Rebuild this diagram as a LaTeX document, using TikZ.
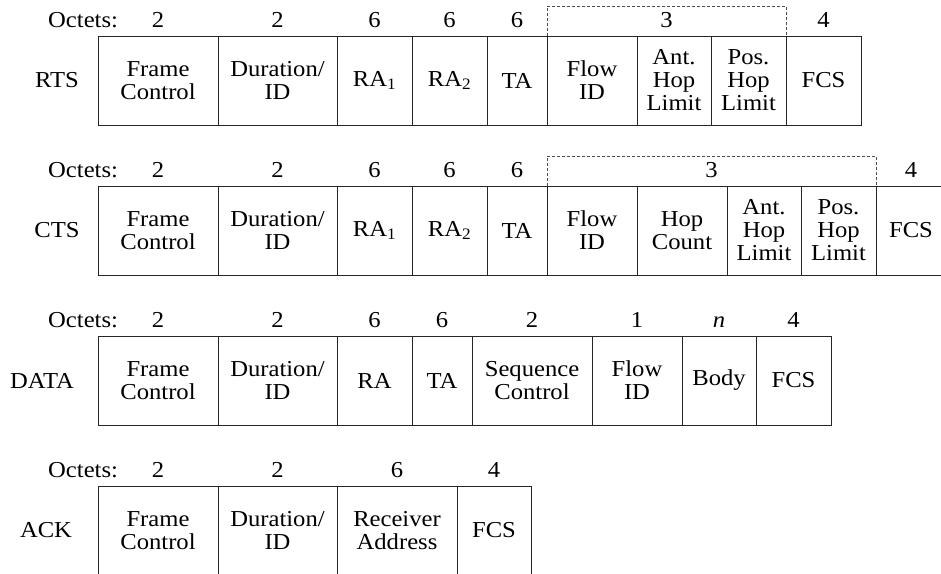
\documentclass[tikz,border=0pt]{standalone}
\usepackage{fontspec}
\setmainfont{Liberation Serif}[FakeStretch=1.08]
\usetikzlibrary{positioning}

\tikzset{
  field/.style={draw=black!85, line width=0.9pt, inner sep=0pt, align=center, minimum height=89pt},
  octet/.style={anchor=base, inner sep=0pt},
  group/.style={draw=black!70, dash pattern=on 3pt off 2pt, line width=0.7pt, inner sep=0pt, minimum height=30pt},
  rowname/.style={inner sep=0pt}
}

\begin{document}
\begin{tikzpicture}[x=1pt, y=-1pt, font=\fontsize{22.8}{23}\selectfont]
\useasboundingbox (0,0) rectangle (941,573);

% RTS
\node[rowname] (rts) at (57,80.5) {RTS};
\node[octet, anchor=base west] (rts-oct) at (48,27) {Octets:};
\node[group, minimum width=239pt] (rts-grp) at (666.5,21) {};
\node[octet] (rts-grp-o) at (rts-grp.center |- 0,27) {3};
\foreach \l/\r/\o/\t/\n in {98/218/2/{Frame\\Control}/fc, 218/337/2/{Duration/\\ID}/dur,
    337/412/6/{RA\textsubscript{1}}/ra1, 412/487/6/{RA\textsubscript{2}}/ra2, 487/547/6/TA/ta,
    547/637/{}/{Flow\\ID}/fid, 637/711/{}/{Ant.\\Hop\\Limit}/ahl,
    711/786/{}/{Pos.\\Hop\\Limit}/phl, 786/861/4/FCS/fcs} {
  \pgfmathsetmacro{\w}{\r-\l}
  \pgfmathsetmacro{\c}{(\l+\r)/2}
  \node[field, minimum width=\w pt] (rts-\n) at (\c,80.5) {\t};
  \node[octet] (rts-\n-o) at (\c,27) {\o};
}

% CTS
\node[rowname] (cts) at (57,230.5) {CTS};
\node[octet, anchor=base west] (cts-oct) at (48,177) {Octets:};
\node[group, minimum width=329pt] (cts-grp) at (711.5,171) {};
\node[octet] (cts-grp-o) at (cts-grp.center |- 0,177) {3};
\foreach \l/\r/\o/\t/\n in {98/218/2/{Frame\\Control}/fc, 218/337/2/{Duration/\\ID}/dur,
    337/412/6/{RA\textsubscript{1}}/ra1, 412/487/6/{RA\textsubscript{2}}/ra2, 487/547/6/TA/ta,
    547/637/{}/{Flow\\ID}/fid, 637/727/{}/{Hop\\Count}/hc, 727/801/{}/{Ant.\\Hop\\Limit}/ahl,
    801/876/{}/{Pos.\\Hop\\Limit}/phl, 876/946/4/FCS/fcs} {
  \pgfmathsetmacro{\w}{\r-\l}
  \pgfmathsetmacro{\c}{(\l+\r)/2}
  \node[field, minimum width=\w pt] (cts-\n) at (\c,230.5) {\t};
  \node[octet] (cts-\n-o) at (\c,177) {\o};
}

% DATA
\node[rowname] (data) at (42,380.5) {DATA};
\node[octet, anchor=base west] (data-oct) at (48,327) {Octets:};
\foreach \l/\r/\o/\t/\n in {98/218/2/{Frame\\Control}/fc, 218/337/2/{Duration/\\ID}/dur,
    337/412/6/RA/ra, 412/472/6/TA/ta, 472/592/2/{Sequence\\Control}/sc,
    592/682/1/{Flow\\ID}/fid, 682/756/{\textit{n}}/Body/body, 756/831/4/FCS/fcs} {
  \pgfmathsetmacro{\w}{\r-\l}
  \pgfmathsetmacro{\c}{(\l+\r)/2}
  \node[field, minimum width=\w pt] (data-\n) at (\c,380.5) {\t};
  \node[octet] (data-\n-o) at (\c,327) {\o};
}

% ACK
\node[rowname] (ack) at (46,530.5) {ACK};
\node[octet, anchor=base west] (ack-oct) at (48,477) {Octets:};
\foreach \l/\r/\o/\t/\n in {98/218/2/{Frame\\Control}/fc, 218/337/2/{Duration/\\ID}/dur,
    337/457/6/{Receiver\\Address}/rad, 457/531/4/FCS/fcs} {
  \pgfmathsetmacro{\w}{\r-\l}
  \pgfmathsetmacro{\c}{(\l+\r)/2}
  \node[field, minimum width=\w pt] (ack-\n) at (\c,530.5) {\t};
  \node[octet] (ack-\n-o) at (\c,477) {\o};
}

\end{tikzpicture}
\end{document}
